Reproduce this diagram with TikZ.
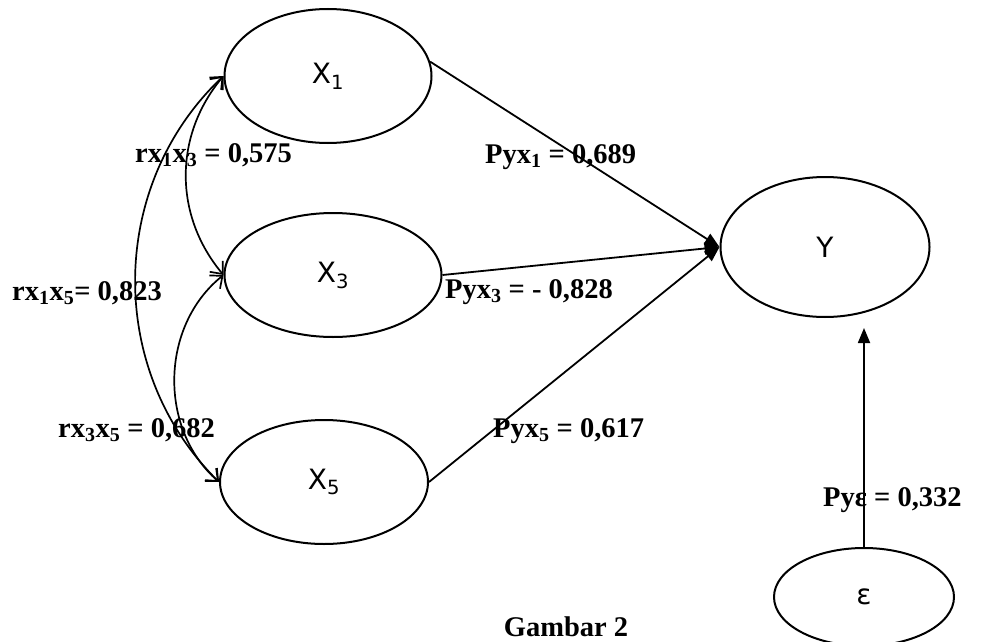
\documentclass[tikz,border=0pt]{standalone}
\usepackage{fontspec}
\setmainfont{Liberation Serif}
\newfontfamily\varfont{DejaVu Sans}
\usetikzlibrary{shapes.geometric,arrows.meta}

\begin{document}
\begin{tikzpicture}
  [x=1pt,y=-1pt,
   var/.style={ellipse,draw=black,line width=2pt,inner sep=0pt,font=\varfont\fontsize{28}{30}\selectfont},
   coef/.style={inner sep=0pt,anchor=base west,font=\fontsize{28.5}{30}\selectfont\bfseries},
   effect/.style={draw,line width=1.8pt,-{Triangle[length=15pt,width=12pt]}},
   corr/.style={draw,line width=1.7pt,{Straight Barb[length=10pt,width=17pt]}-{Straight Barb[length=10pt,width=17pt]}}]
  \useasboundingbox (0,0) rectangle (982,642);

  \node[var,minimum width=207pt,minimum height=134pt] (x1) at (328,76) {X\textsubscript{1}};
  \node[var,minimum width=217pt,minimum height=124pt] (x3) at (333,275) {X\textsubscript{3}};
  \node[var,minimum width=208pt,minimum height=124pt] (x5) at (324,482) {X\textsubscript{5}};
  \node[var,minimum width=209pt,minimum height=140pt] (y) at (825,247) {Y};
  \node[var,minimum width=180pt,minimum height=98pt] (eps) at (864,597) {ε};

  \draw[effect] (x1.8) -- (y.west);
  \draw[effect] (x3.east) -- (y.west);
  \draw[effect] (x5.east) -- (y.west);
  \draw[effect,shorten >=10pt] (eps.north) -- (eps.north |- y.south);

  \draw[corr] (x1.west) to[bend right=40] (x3.west);
  \draw[corr] (x1.west) to[bend right=46] (x5.west);
  \draw[corr] (x3.west) to[bend right=50] (x5.west);

  % koefisien
  \node[coef] (r13) at (135,162) {rx\textsubscript{1}x\textsubscript{3} = 0,575};
  \node[coef] (r15) at (12,300) {rx\textsubscript{1}x\textsubscript{5}= 0,823};
  \node[coef] (r35) at (58,437) {rx\textsubscript{3}x\textsubscript{5} = 0,682};
  \node[coef] (p1) at (485,163) {Pyx\textsubscript{1} = 0,689};
  \node[coef] (p3) at (445,298) {Pyx\textsubscript{3} = - 0,828};
  \node[coef] (p5) at (493,437) {Pyx\textsubscript{5} = 0,617};
  \node[coef] (pe) at (823,506) {Pyε = 0,332};
  \node[coef,anchor=base] (cap) at (566,636) {Gambar 2};
\end{tikzpicture}
\end{document}
